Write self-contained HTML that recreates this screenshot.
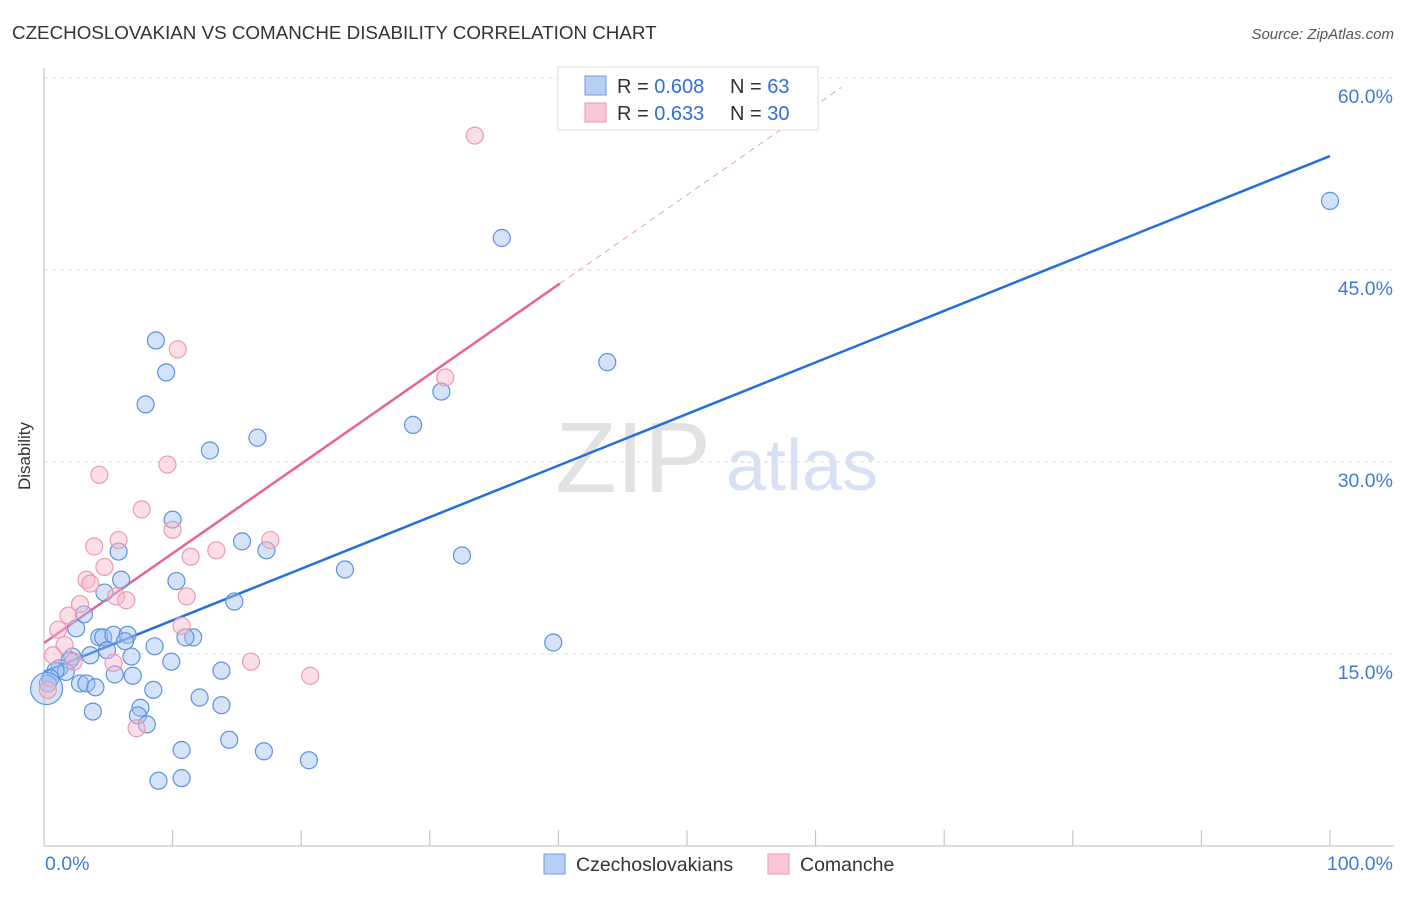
<!DOCTYPE html>
<html><head><meta charset="utf-8"><style>
body{margin:0;background:#fff;font-family:"Liberation Sans",sans-serif;}
svg text{font-family:"Liberation Sans",sans-serif;}
</style></head><body>
<svg id="chart" width="1406" height="892" xmlns="http://www.w3.org/2000/svg">
<text x="12" y="39" font-size="18.8" fill="#333">CZECHOSLOVAKIAN VS COMANCHE DISABILITY CORRELATION CHART</text>
<text x="1394" y="39" font-size="15" fill="#555" font-style="italic" text-anchor="end">Source: ZipAtlas.com</text>
<text x="30" y="456" font-size="17" fill="#333" transform="rotate(-90 30 456)" text-anchor="middle">Disability</text>
<g><text x="633" y="492" font-size="100" fill="#e2e2e2" font-family="Liberation Serif" text-anchor="middle">ZIP</text><text x="802" y="490" font-size="72" fill="#d6e2f4" text-anchor="middle">atlas</text></g>
<g id="grid"></g><g id="axes"></g><g id="lines"></g><g id="pts"></g>
<g>
<rect x="558" y="67" width="260" height="63" fill="#fff" stroke="#ddd"/>
<rect x="585" y="76" width="21" height="19" fill="#b8d0f4" stroke="#6b9be0"/>
<rect x="585" y="103" width="21" height="19" fill="#f9c6d5" stroke="#ea9ab2"/>
<text x="617" y="93" font-size="20" fill="#333">R = <tspan fill="#2f6fd8">0.608</tspan></text>
<text x="730" y="93" font-size="20" fill="#333">N = <tspan fill="#2f6fd8">63</tspan></text>
<text x="617" y="120" font-size="20" fill="#333">R = <tspan fill="#2f6fd8"> 0.633</tspan></text>
<text x="730" y="120" font-size="20" fill="#333">N = <tspan fill="#2f6fd8">30</tspan></text>
</g>
<g>
<rect x="544" y="854" width="21" height="20" fill="#b8d0f4" stroke="#6b9be0"/>
<text x="576" y="871" font-size="19.5" fill="#333">Czechoslovakians</text>
<rect x="768" y="854" width="21" height="20" fill="#f9c6d5" stroke="#ea9ab2"/>
<text x="800" y="871" font-size="19.5" fill="#333">Comanche</text>
</g>
</svg>
<script>
const yTicks=[15,30,45,60];
const yTickLabels=["15.0%","30.0%","45.0%","60.0%"];
const xTickLabels=["0.0%","100.0%"];
const blueX=[8.7,9.5,7.9,12.9,16.6,10.0,5.8,15.4,17.3,6.0,10.3,4.7,14.8,3.1,2.5,4.3,4.6,5.4,6.5,6.3,8.6,11.6,11.0,4.9,3.6,2.2,2.0,6.8,9.9,1.2,1.7,0.9,0.5,0.3,5.5,6.9,2.8,3.3,4.0,8.5,12.1,13.8,13.8,3.8,7.5,7.3,8.0,14.4,10.7,17.1,20.6,8.9,10.7,23.4,28.7,30.9,35.6,43.8,32.5,39.6,100,0.2];
const blueY=[39.5,37.0,34.5,30.9,31.9,25.5,23.0,23.8,23.1,20.8,20.7,19.8,19.1,18.1,17.0,16.3,16.3,16.5,16.5,16.0,15.6,16.3,16.3,15.3,14.9,14.8,14.5,14.8,14.4,13.9,13.6,13.7,13.1,12.7,13.4,13.3,12.7,12.7,12.4,12.2,11.6,13.7,11.0,10.5,10.8,10.2,9.5,8.3,7.5,7.4,6.7,5.1,5.3,21.6,32.9,35.5,47.5,37.8,22.7,15.9,50.4,12.3];
const pinkX=[33.5,10.4,31.2,9.6,4.3,7.6,10.0,5.8,17.6,3.9,13.4,11.4,4.7,3.3,3.6,5.6,6.4,11.1,2.8,1.9,1.1,10.7,1.6,2.3,5.4,16.1,20.7,7.2,0.7,0.3];
const pinkY=[55.5,38.8,36.6,29.8,29.0,26.3,24.7,23.9,23.9,23.4,23.1,22.6,21.8,20.8,20.5,19.5,19.2,19.5,18.9,18.0,16.9,17.2,15.7,14.4,14.3,14.4,13.3,9.2,14.9,12.2];
const blueTrend=[13.6,53.9];
const pinkTrend=[15.86,0.70];
const X=v=>44+v*12.86, Y=v=>846-v*12.8;
const NS="http://www.w3.org/2000/svg";
function mk(tag,attrs,parent){const e=document.createElementNS(NS,tag);for(const k in attrs)e.setAttribute(k,attrs[k]);document.getElementById(parent).appendChild(e);return e;}
yTicks.forEach((t,i)=>{
 const l=mk('line',{x1:44,x2:1394,y1:Y(t),y2:Y(t),stroke:'#ddd','stroke-dasharray':'4,4'},'grid');
 
 
 const tx=mk('text',{x:1393,y:Y(t)+25,'font-size':19.5,fill:'#3f7ad9','text-anchor':'end'},'grid');
 tx.textContent=yTickLabels[i];
 
 
});
const ax=mk('line',{x1:44,x2:44,y1:68,y2:846,stroke:'#bbb'},'axes');


const bx=mk('line',{x1:44,x2:1394,y1:846,y2:846,stroke:'#bbb'},'axes');


for(let i=0;i<=10;i++){const t=mk('line',{x1:X(i*10),x2:X(i*10),y1:830,y2:846,stroke:'#bbb'},'axes');
 
 }
[[0,'start',45],[100,'end',1393]].forEach((a,i)=>{const t=mk('text',{x:a[2],y:870,'font-size':19.5,fill:'#3f7ad9','text-anchor':a[1]},'axes');t.textContent=xTickLabels[i];
 
 });
const bl=mk('line',{x1:X(0),y1:Y(blueTrend[0]),x2:X(100),y2:Y(blueTrend[1]),stroke:'#2470d8','stroke-width':2.5},'lines');


const pe=40.1, pd=62;
const pl=mk('line',{x1:X(0),y1:Y(pinkTrend[0]),x2:X(pe),y2:Y(pinkTrend[0]+pinkTrend[1]*pe),stroke:'#e8648e','stroke-width':2.5},'lines');


const pdl=mk('line',{x1:X(pe),y1:Y(pinkTrend[0]+pinkTrend[1]*pe),x2:X(pd),y2:Y(pinkTrend[0]+pinkTrend[1]*pd),stroke:'#e8a0b8','stroke-width':1,'stroke-dasharray':'6,5'},'lines');


blueX.forEach((x,i)=>{const r=(i===blueX.length-1)?16:8.5;const c=mk('circle',{cx:X(x),cy:Y(blueY[i]),r:r,fill:'rgba(160,194,240,0.45)',stroke:'#5d92dd','stroke-width':1.2},'pts');
 
 });
pinkX.forEach((x,i)=>{const c=mk('circle',{cx:X(x),cy:Y(pinkY[i]),r:8.5,fill:'rgba(248,182,202,0.45)',stroke:'#ec9ab3','stroke-width':1.2},'pts');
 
 });
</script>
</body></html>
